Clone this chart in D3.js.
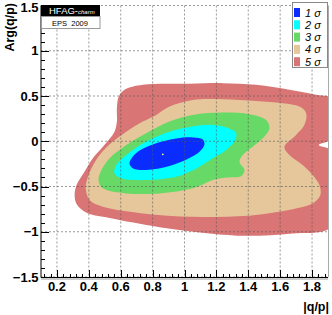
<!DOCTYPE html>
<html>
<head>
<meta charset="utf-8">
<script src="https://cdn.jsdelivr.net/npm/d3@7"></script>
<style>
  body { margin: 0; background: #fff; }
  svg { display: block; font-family: "Liberation Sans", Arial, sans-serif; }
</style>
</head>
<body>
<svg id="chart" width="332" height="315"></svg>
<script>
// tick values / labels
var xTicks = [0.2, 0.4, 0.6, 0.8, 1, 1.2, 1.4, 1.6, 1.8];
var xTickLabels = ["0.2", "0.4", "0.6", "0.8", "1", "1.2", "1.4", "1.6", "1.8"];
var yTicks = [-1.5, -1, -0.5, 0, 0.5, 1, 1.5];
var yTickLabels = ["\u22121.5", "\u22121", "\u22120.5", "0", "0.5", "1", "1.5"];

var sigmaNames = ["1", "2", "3", "4", "5"];
var sigmaColors = ["#0b2cff", "#00ffff", "#66d966", "#e6c79b", "#d97574"];

// contour outlines, [|q/p|, Arg(q/p)]
var contour5 = [[0.576, 0.365], [0.588, 0.494], [0.624, 0.568], [0.739, 0.623], [1.031, 0.635],
    [1.240, 0.642], [1.449, 0.623], [1.658, 0.568], [1.825, 0.513], [1.925, 0.468],
    [1.925, 0.03], [1.843, -0.041], [1.925, -0.11], [1.925, -0.938], [1.677, -1.019],
    [1.388, -1.045], [1.157, -1.019], [0.843, -0.949], [0.530, -0.849], [0.386, -0.791],
    [0.323, -0.694], [0.311, -0.595], [0.323, -0.484], [0.373, -0.337], [0.425, -0.188],
    [0.488, -0.060], [0.561, 0.106], [0.576, 0.217]];
var contour4 = [[0.823, 0.291], [0.906, 0.383], [1.052, 0.457], [1.240, 0.465], [1.449, 0.446],
    [1.616, 0.421], [1.721, 0.383], [1.763, 0.310], [1.752, 0.181], [1.700, 0.070],
    [1.627, -0.060], [1.658, -0.152], [1.741, -0.262], [1.804, -0.373], [1.846, -0.484],
    [1.852, -0.595], [1.808, -0.683], [1.679, -0.750], [1.365, -0.827], [1.052, -0.835],
    [0.739, -0.797], [0.488, -0.724], [0.405, -0.650], [0.380, -0.517], [0.392, -0.406],
    [0.417, -0.299], [0.467, -0.152], [0.551, -0.004], [0.635, 0.106], [0.739, 0.217]];
var contour3 = [[0.760, 0.089], [0.906, 0.217], [1.052, 0.291], [1.240, 0.317], [1.407, 0.299],
    [1.512, 0.236], [1.533, 0.144], [1.491, 0.033], [1.428, -0.060], [1.365, -0.152],
    [1.345, -0.226], [1.376, -0.318], [1.357, -0.384], [1.269, -0.401], [1.188, -0.423],
    [1.052, -0.520], [0.843, -0.576], [0.635, -0.576], [0.488, -0.520], [0.461, -0.440],
    [0.474, -0.337], [0.530, -0.188], [0.635, -0.041]];
var contour2 = [[0.760, -0.004], [0.906, 0.106], [1.052, 0.162], [1.157, 0.181], [1.261, 0.151],
    [1.324, 0.089], [1.313, -0.004], [1.261, -0.096], [1.177, -0.188], [1.094, -0.281],
    [1.031, -0.337], [0.948, -0.392], [0.760, -0.429], [0.603, -0.410], [0.561, -0.354],
    [0.572, -0.262], [0.635, -0.152]];
var contour1 = [[0.655, -0.244], [0.697, -0.130], [0.801, -0.035], [0.948, 0.031], [1.052, 0.042],
    [1.115, 0.020], [1.125, -0.035], [1.094, -0.115], [1.031, -0.185], [0.906, -0.274],
    [0.760, -0.318], [0.676, -0.299]];
var bestFit = [0.864, -0.144];

var svg = d3.select("#chart");
var x = d3.scaleLinear().domain([0.1, 1.9]).range([41, 328]);
var y = d3.scaleLinear().domain([-1.5, 1.5]).range([277, 5.5]);

svg.append("clipPath").attr("id", "plotclip")
    .append("rect").attr("x", 41).attr("y", 5.5).attr("width", 287).attr("height", 271.5);

var line = d3.line()
    .x(function(d) { return x(d[0]); })
    .y(function(d) { return y(d[1]); })
    .curve(d3.curveCatmullRomClosed.alpha(0.5));

var g = svg.append("g").attr("clip-path", "url(#plotclip)");
[contour5, contour4, contour3, contour2, contour1].forEach(function(c, i) {
    g.append("path")
        .attr("d", line(c))
        .attr("fill", sigmaColors[4 - i]);
});
g.append("circle")
    .attr("cx", x(bestFit[0])).attr("cy", y(bestFit[1]))
    .attr("r", 0.9).attr("fill", "#ffff66");

// grid
svg.append("g").selectAll("line").data(xTicks).enter().append("line")
    .attr("x1", function(d) { return x(d); }).attr("x2", function(d) { return x(d); })
    .attr("y1", 5.5).attr("y2", 277)
    .attr("stroke", "#555").attr("stroke-opacity", 0.75)
    .attr("stroke-dasharray", "2,2").attr("stroke-width", 0.8);
svg.append("g").selectAll("line").data(yTicks).enter().append("line")
    .attr("x1", 41).attr("x2", 328)
    .attr("y1", function(d) { return y(d); }).attr("y2", function(d) { return y(d); })
    .attr("stroke", "#555").attr("stroke-opacity", 0.75)
    .attr("stroke-dasharray", "2,2").attr("stroke-width", 0.8);

// right border
svg.append("line").attr("x1", 328.5).attr("x2", 328.5).attr("y1", 5.5).attr("y2", 277)
    .attr("stroke", "#aaa");

// axes (ticks inward, drawn by hand like root)
var axisG = svg.append("g").attr("stroke", "#000");
axisG.append("line").attr("x1", 41).attr("x2", 41).attr("y1", 5.5).attr("y2", 277.5);
axisG.append("line").attr("x1", 41).attr("x2", 328).attr("y1", 277.5).attr("y2", 277.5);
svg.append("line").attr("x1", 41).attr("x2", 328).attr("y1", 279).attr("y2", 279)
    .attr("stroke", "#bbb").attr("stroke-width", 1.5);

var yMinor = d3.range(-15, 16).map(function(i) { return i / 10; });
axisG.selectAll(".ymin").data(yMinor).enter().append("line")
    .attr("x1", 41).attr("x2", function(d) { return Math.abs(d * 2 - Math.round(d * 2)) < 1e-6 ? 49 : 45; })
    .attr("y1", function(d) { return Math.round(y(d)) + 0.5; })
    .attr("y2", function(d) { return Math.round(y(d)) + 0.5; });

var xMinor = d3.range(3, 48).map(function(i) { return i / 25 ; }).filter(function(d) { return d >= 0.1 && d <= 1.9; });
axisG.selectAll(".xmin").data(xMinor).enter().append("line")
    .attr("x1", function(d) { return Math.round(x(d)) + 0.5; })
    .attr("x2", function(d) { return Math.round(x(d)) + 0.5; })
    .attr("y1", 277.5)
    .attr("y2", function(d) { return Math.abs(d * 5 - Math.round(d * 5)) < 1e-6 ? 270 : 274; });

// tick labels (top one nudged down so it is not cut by the page edge)
svg.append("g").selectAll("text").data(yTicks).enter().append("text")
    .attr("x", 38.5).attr("y", function(d) { return Math.max(y(d), 7.5); })
    .attr("dy", "0.36em").attr("text-anchor", "end")
    .attr("font-size", 13).attr("font-weight", "bold")
    .text(function(d, i) { return yTickLabels[i]; });
svg.append("g").selectAll("text").data(xTicks).enter().append("text")
    .attr("x", function(d) { return x(d); }).attr("y", 291)
    .attr("text-anchor", "middle")
    .attr("font-size", 13).attr("font-weight", "bold")
    .text(function(d, i) { return xTickLabels[i]; });

// axis titles
svg.append("text")
    .attr("transform", "translate(14,3) rotate(-90)")
    .attr("text-anchor", "end")
    .attr("font-size", 12.5).attr("font-weight", "bold")
    .text("Arg(q/p)");
svg.append("text")
    .attr("x", 329).attr("y", 311)
    .attr("text-anchor", "end")
    .attr("font-size", 12.5).attr("font-weight", "bold")
    .text("|q/p|");

// HFAG logo
svg.append("rect").attr("x", 41).attr("y", 5).attr("width", 59).attr("height", 11).attr("fill", "#000");
svg.append("rect").attr("x", 41.5).attr("y", 16.5).attr("width", 58.5).attr("height", 12)
    .attr("fill", "#fff").attr("stroke", "#999");
var logo = svg.append("text").attr("x", 49).attr("y", 14).attr("fill", "#fff");
logo.append("tspan").attr("font-size", 9.5).text("HFAG-");
logo.append("tspan").attr("font-size", 6).attr("font-style", "italic").text("charm");
svg.append("text").attr("x", 70).attr("y", 25.5).attr("text-anchor", "middle")
    .attr("font-size", 7.5).attr("xml:space", "preserve").text("EPS  2009");

// legend
var leg = svg.append("g");
leg.append("rect").attr("x", 292.5).attr("y", 2.5).attr("width", 35).attr("height", 65)
    .attr("fill", "#fff").attr("stroke", "#888");
leg.selectAll("rect.sw").data(sigmaNames).enter().append("rect")
    .attr("class", "sw")
    .attr("x", 294).attr("y", function(d, i) { return 8 + i * 12.3; })
    .attr("width", 6).attr("height", 9)
    .attr("fill", function(d, i) { return sigmaColors[i]; });
leg.selectAll("text").data(sigmaNames).enter().append("text")
    .attr("x", 305).attr("y", function(d, i) { return 16.5 + i * 12.3; })
    .attr("font-size", 11).attr("font-style", "italic")
    .text(function(d) { return d + " \u03c3"; });
</script>
</body>
</html>
